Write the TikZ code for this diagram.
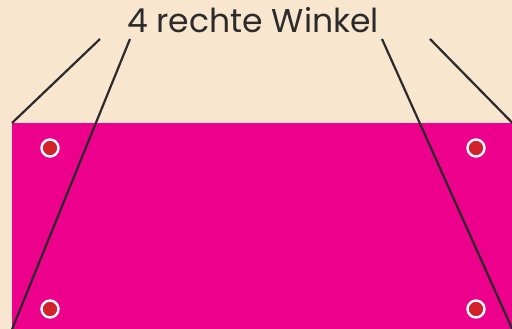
\documentclass[tikz,border=0pt]{standalone}
\usepackage{fontspec}
\setmainfont{Poppins}
\usetikzlibrary{positioning}
\definecolor{paper}{HTML}{F9E6CF}
\definecolor{banner}{HTML}{EC008C}
\definecolor{grommet}{HTML}{D2232A}
\definecolor{ink}{HTML}{2B2B2B}

\begin{document}
\begin{tikzpicture}[x=1pt,y=-1pt,
 hole/.style={circle, fill=grommet, draw=white, line width=2.4pt, minimum size=17pt, inner sep=0pt},
 pointer/.style={ink, line width=2.2pt},
]
 \fill[paper] (0,0) rectangle (512,329);
 \useasboundingbox (0,0) rectangle (512,329);
 % the banner, its corners reach the page edges
 \node[fill=banner, minimum width=500pt, minimum height=206pt, inner sep=0pt, anchor=north west] (sheet) at (12,123) {};
 % eyelets
 \node[hole] (h1) at (50,148) {};
 \node[hole] (h2) at (476,148) {};
 \node[hole] (h3) at (50,309) {};
 \node[hole] (h4) at (476,309) {};
 % caption and its four pointers
 \node[font=\fontsize{33}{36}\selectfont, text=ink, anchor=base] (caption) at (253,33) {4 rechte Winkel};
 \coordinate (p1) at (100,39);
 \coordinate (p2) at (130,39);
 \coordinate (p3) at (382,39);
 \coordinate (p4) at (430,39);
 \draw[pointer] (p1) -- (sheet.north west);
 \draw[pointer] (p2) -- (sheet.south west);
 \draw[pointer] (p3) -- (sheet.south east);
 \draw[pointer] (p4) -- (sheet.north east);
\end{tikzpicture}
\end{document}
